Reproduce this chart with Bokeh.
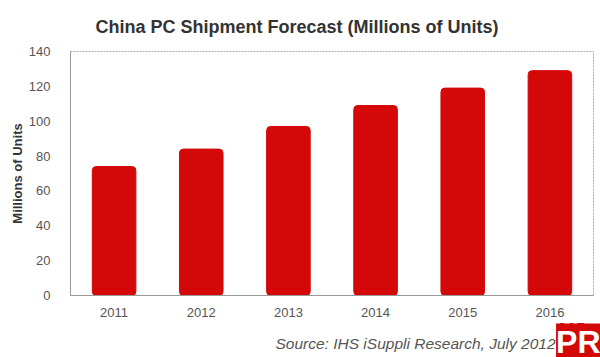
from bokeh.plotting import figure
from bokeh.models import Range1d, FixedTicker, Title
from bokeh.embed import file_html
from bokeh.resources import INLINE

years = ["2011", "2012", "2013", "2014", "2015", "2016"]
shipments = [74, 84, 97, 109, 119, 129]
y_ticks = [0, 20, 40, 60, 80, 100, 120, 140]

FONT = "Liberation Sans"

p = figure(x_range=years, y_range=Range1d(0, 140), width=600, height=357,
           output_backend="svg", toolbar_location=None,
           min_border_left=70, min_border_right=7, min_border_top=51, min_border_bottom=62)

p.vbar(x=years, top=shipments, width=0.5, fill_color="#d40808", line_color="#d40808",
       border_radius=4)

p.x_range.range_padding = 0
p.xgrid.grid_line_color = None
p.ygrid.grid_line_color = None
p.background_fill_color = "white"
p.border_fill_color = "white"
p.outline_line_color = "#aaaaaa"
p.outline_line_dash = "2 1"

p.yaxis.ticker = FixedTicker(ticks=y_ticks)
p.yaxis.axis_label = "Millions of Units"
p.yaxis.axis_label_text_font = FONT
p.yaxis.axis_label_text_font_style = "bold"
p.yaxis.axis_label_text_font_size = "13px"
p.yaxis.axis_label_text_color = "#333333"
p.yaxis.axis_label_standoff = 1
for ax in (p.xaxis, p.yaxis):
    ax.axis_line_color = "#999999"
    ax.major_tick_line_color = None
    ax.minor_tick_line_color = None
    ax.major_label_text_font = FONT
    ax.major_label_text_font_size = "13px"
    ax.major_label_text_color = "#555555"
p.yaxis.major_label_standoff = 14
p.xaxis.major_label_standoff = 6

p.title = Title(text="China PC Shipment Forecast (Millions of Units)", align="left",
                offset=25, standoff=29, text_font=FONT, text_font_style="bold",
                text_font_size="18px", text_color="#333333")

# watermark logo + source line, stacked in the panel below the x axis
p.add_layout(Title(text="365", align="right", offset=8, standoff=2,
                   text_font=FONT, text_font_style="bold", text_font_size="17px",
                   text_color="#d40808"), "below")
p.add_layout(Title(text="PR", align="right", offset=-7, standoff=-28,
                   text_font=FONT, text_font_style="bold", text_font_size="32px",
                   text_color="white", background_fill_color="#d40808"), "below")
p.add_layout(Title(text="Source: IHS iSuppli Research, July 2012", align="left",
                   offset=205, standoff=-22, vertical_align="top", text_font=FONT,
                   text_font_style="italic", text_font_size="15.5px",
                   text_color="#555555"), "below")

open("out.html", "w").write(file_html(p, INLINE))
